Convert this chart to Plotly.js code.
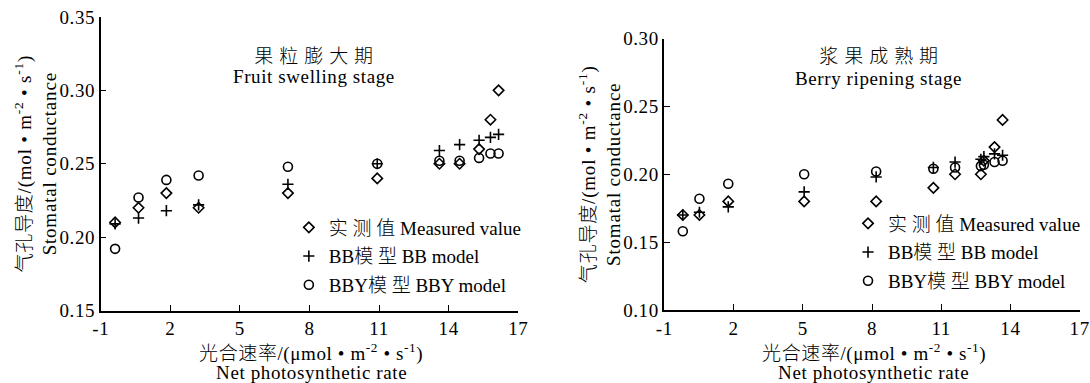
<!DOCTYPE html>
<html>
<head>
<meta charset="utf-8">
<script src="https://cdn.plot.ly/plotly-3.0.1.min.js"></script>
<style>
html,body{margin:0;padding:0;background:#fff;}
#chart{width:1090px;height:383px;}
#chart .xtick text, #chart .ytick text, #chart .x2tick text, #chart .y2tick text{letter-spacing:0.6px;}
#chart .g-ytitle text, #chart .g-y2title text{letter-spacing:0.8px;}
#chart .annotation-text{letter-spacing:0.6px;}
</style>
</head>
<body>
<div id="chart"></div>
<script>
// Fruit swelling stage
const pnSwelling = [-0.38, 0.63, 1.83, 3.22, 7.07, 10.92, 13.6, 14.47, 15.31, 15.8, 16.15];
const measuredSwelling = [0.21, 0.22, 0.23, 0.22, 0.23, 0.24, 0.25, 0.25, 0.26, 0.28, 0.30];
const bbSwelling = [0.209, 0.213, 0.218, 0.222, 0.236, 0.250, 0.259, 0.263, 0.266, 0.268, 0.270];
const bbySwelling = [0.192, 0.227, 0.239, 0.242, 0.248, 0.250, 0.252, 0.252, 0.254, 0.257, 0.257];

// Berry ripening stage
const pnRipening = [-0.2, 0.52, 1.77, 5.06, 8.18, 10.66, 11.6, 12.72, 12.85, 13.31, 13.66];
const measuredRipening = [0.17, 0.17, 0.18, 0.18, 0.18, 0.19, 0.20, 0.20, 0.21, 0.22, 0.24];
const bbRipening = [0.170, 0.172, 0.176, 0.187, 0.198, 0.205, 0.209, 0.211, 0.213, 0.215, 0.214];
const bbyRipening = [0.158, 0.182, 0.193, 0.200, 0.202, 0.204, 0.205, 0.206, 0.207, 0.209, 0.210];

const xTicks = [-1, 2, 5, 8, 11, 14, 17];
const yTicksSwelling = [0.15, 0.20, 0.25, 0.30, 0.35];
const yTicksRipening = [0.10, 0.15, 0.20, 0.25, 0.30];

const seriesNames = ['实 测 值 Measured value', 'BB模 型 BB model', 'BBY模 型 BBY model'];
const panelTitlesCn = ['果 粒 膨 大 期', '浆 果 成 熟 期'];
const panelTitlesEn = ['Fruit swelling stage', 'Berry ripening stage'];
const xTitleCn = '光合速率/(μmol • m<sup>-2</sup> • s<sup>-1</sup>)';
const xTitleEn = 'Net photosynthetic rate';
const yTitle = '气孔导度/(mol • m<sup>-2</sup> • s<sup>-1</sup>)<br>Stomatal conductance';

const FONT = "'Liberation Serif', 'Times New Roman', 'Noto Sans CJK SC', serif";
const styles = [
  {symbol: 'diamond-open', size: 8, line: {width: 1.6, color: '#000'}},
  {symbol: 'cross-thin-open', size: 8, line: {width: 1.6, color: '#000'}},
  {symbol: 'circle-open', size: 9, line: {width: 1.6, color: '#000'}}
];

function mk(x, y, i, xa, ya, leg) {
  return {
    x: x, y: y, type: 'scatter', mode: 'markers', name: seriesNames[i],
    xaxis: xa, yaxis: ya, legend: leg, legendgroup: leg + i,
    marker: Object.assign({color: '#000'}, styles[i]),
    hoverinfo: 'x+y'
  };
}

const data = [
  mk(pnSwelling, measuredSwelling, 0, 'x', 'y', 'legend'),
  mk(pnSwelling, bbSwelling, 1, 'x', 'y', 'legend'),
  mk(pnSwelling, bbySwelling, 2, 'x', 'y', 'legend'),
  mk(pnRipening, measuredRipening, 0, 'x2', 'y2', 'legend2'),
  mk(pnRipening, bbRipening, 1, 'x2', 'y2', 'legend2'),
  mk(pnRipening, bbyRipening, 2, 'x2', 'y2', 'legend2')
];

function xAxis(domain, anchor) {
  return {
    domain: domain, anchor: anchor, range: [-1, 17],
    tickmode: 'array', tickvals: xTicks, ticktext: xTicks.map(String),
    ticks: 'inside', ticklen: 6, tickwidth: 1.3, tickcolor: '#000',
    showline: true, linecolor: '#000', linewidth: 1.5,
    showgrid: false, zeroline: false,
    tickfont: {family: FONT, size: 19, color: '#000'}
  };
}
function yAxis(domain, anchor, ticks) {
  return {
    domain: domain, anchor: anchor, range: [ticks[0], ticks[ticks.length - 1]],
    tickmode: 'array', tickvals: ticks, ticktext: ticks.map(v => v.toFixed(2)),
    ticks: 'inside', ticklen: 6, tickwidth: 1.3, tickcolor: '#000',
    showline: true, linecolor: '#000', linewidth: 1.5,
    showgrid: false, zeroline: false,
    tickfont: {family: FONT, size: 19, color: '#000'},
    title: {text: yTitle, font: {family: FONT, size: 19, color: '#000', weight: 300}}
  };
}

const legendBase = {
  font: {family: FONT, size: 19, color: '#000', weight: 300},
  bgcolor: 'rgba(0,0,0,0)', borderwidth: 0,
  xanchor: 'left', yanchor: 'top', tracegroupgap: 1, itemwidth: 30
};

const PLOT_H = 311; // plot area height in px (bottom margin below it)
function py(px) { return (PLOT_H - px) / PLOT_H; }

function ann(text, x, ypx) {
  return {text: text, xref: 'paper', yref: 'paper', x: x, y: py(ypx), xanchor: 'center', yanchor: 'middle',
          showarrow: false, font: {family: FONT, size: 19, color: '#000', weight: 300}};
}

const layout = {
  width: 1090, height: 383,
  margin: {l: 0, r: 0, t: 0, b: 383 - PLOT_H, pad: 0},
  paper_bgcolor: '#fff', plot_bgcolor: '#fff',
  showlegend: true,
  xaxis: xAxis([0.0924, 0.4755], 'y'),
  yaxis: yAxis([py(310.5), py(17)], 'x', yTicksSwelling),
  xaxis2: xAxis([0.6095, 0.9905], 'y2'),
  yaxis2: yAxis([py(310), py(38.5)], 'x2', yTicksRipening),
  legend: Object.assign({x: 0.265, y: py(208.5)}, legendBase),
  legend2: Object.assign({x: 0.778, y: py(204.5)}, legendBase),
  annotations: [
    ann(panelTitlesCn[0], 0.288, 57),
    ann(panelTitlesEn[0], 0.288, 77),
    ann(panelTitlesCn[1], 0.806, 57),
    ann(panelTitlesEn[1], 0.806, 78),
    ann(xTitleCn, 0.2855, 352),
    ann(xTitleEn, 0.2855, 372),
    ann(xTitleCn, 0.8015, 352),
    ann(xTitleEn, 0.8015, 372)
  ]
};

Plotly.newPlot('chart', data, layout, {displayModeBar: false, responsive: false});
</script>
</body>
</html>
